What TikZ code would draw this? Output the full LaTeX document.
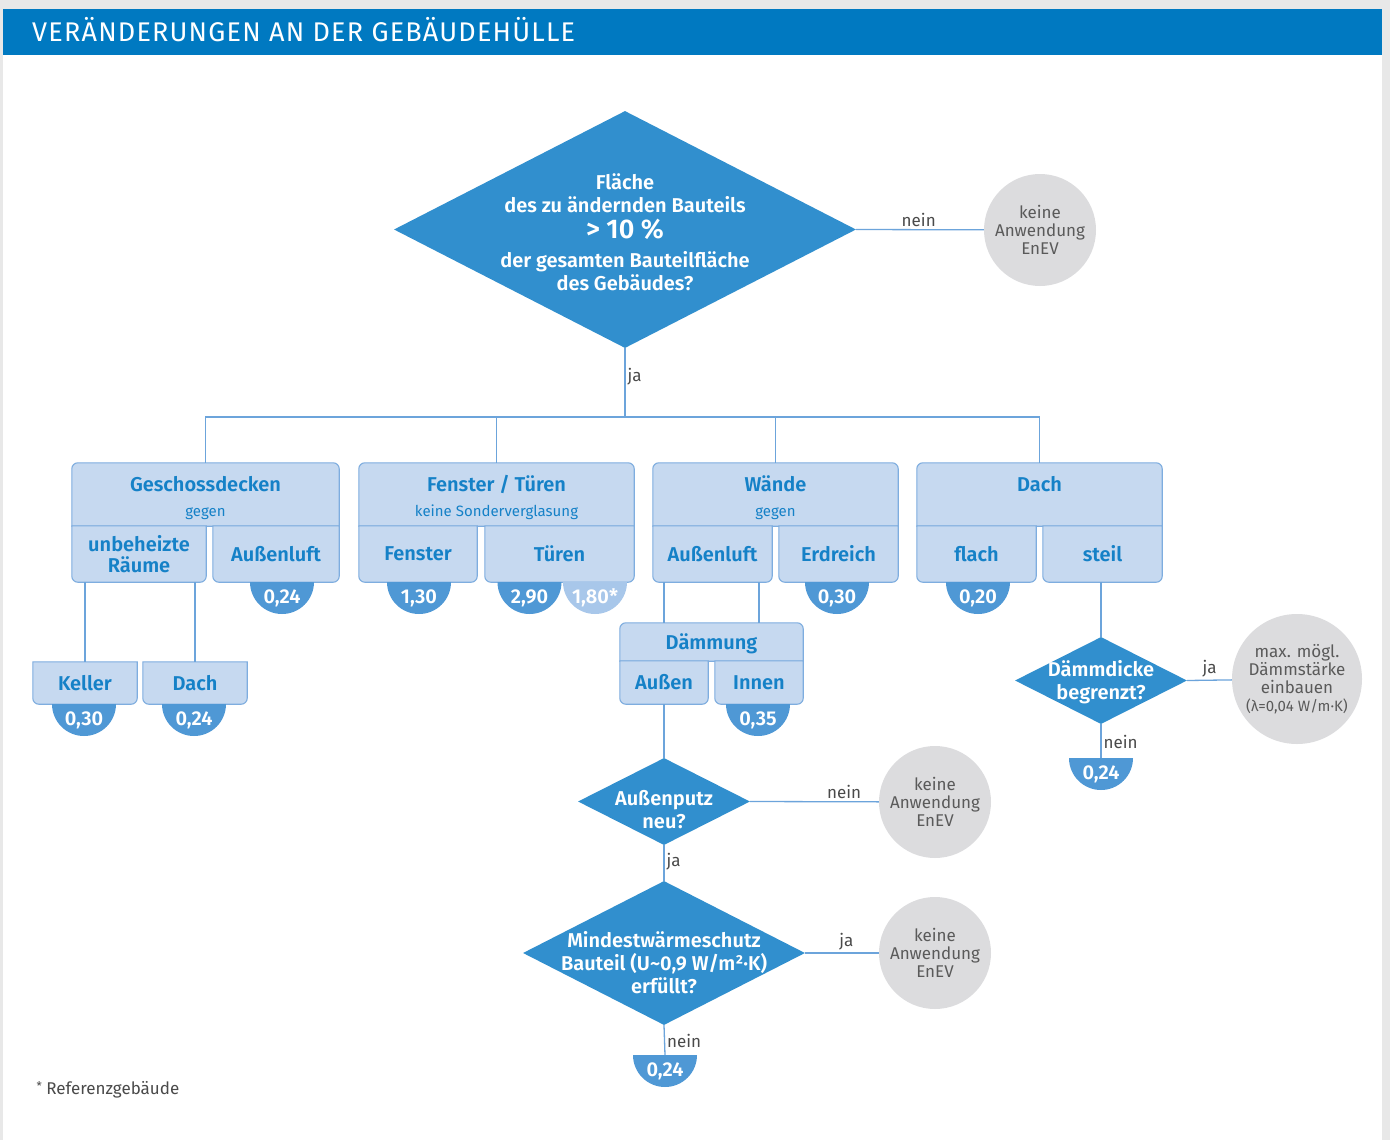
\documentclass[tikz,border=0pt]{standalone}
\usepackage{fontspec}
\setmainfont{Fira Sans}[BoldFont={Fira Sans SemiBold}]
\usepackage{tikz}
\usetikzlibrary{calc}
\usetikzlibrary{shapes.geometric}
\usetikzlibrary{backgrounds}

\definecolor{pagegray}{HTML}{E8E8E8}
\definecolor{headblue}{HTML}{0079C1}
\definecolor{diablue}{HTML}{318FCE}
\definecolor{badgeblue}{HTML}{4F98D5}
\definecolor{badgelight}{HTML}{A8C7EA}
\definecolor{cellfill}{HTML}{C6D9F0}
\definecolor{celledge}{HTML}{7EADDF}
\definecolor{celltext}{HTML}{1581C7}
\definecolor{linkblue}{HTML}{6CA4DB}
\definecolor{roundgray}{HTML}{DCDCDE}
\definecolor{roundtext}{HTML}{5A5A5A}
\definecolor{labeltext}{HTML}{4A4A4A}

\newcommand{\subfont}{\fontsize{15}{18}\selectfont\mdseries}
\newcommand{\topstrut}{\rule{0pt}{22pt}}
% box with rounded top corners
\newcommand{\headbox}[1]{\filldraw[cellbox] let \p1=(#1.north west), \p2=(#1.south east) in
  (\x1,\y2) -- (\x1,\y1-6pt) arc[start angle=180,end angle=90,radius=6pt] -- (\x2-6pt,\y1)
  arc[start angle=90,end angle=0,radius=6pt] -- (\x2,\y2) -- cycle;}
% box with rounded bottom corners
\newcommand{\lowbox}[1]{\filldraw[cellbox] let \p1=(#1.north west), \p2=(#1.south east) in
  (\x1,\y1) -- (\x1,\y2+6pt) arc[start angle=180,end angle=270,radius=6pt] -- (\x2-6pt,\y2)
  arc[start angle=270,end angle=360,radius=6pt] -- (\x2,\y1) -- cycle;}
% value under a box: name, x, top, text, colour
\newcommand{\badge}[5]{\fill[#5] (#2-32,#3) arc[start angle=180,end angle=360,radius=32] -- cycle;
  \coordinate (#1-top) at (#2,#3);
  \node[badgetext] (#1) at (#2,#3-16) {#4};}

\begin{document}
\begin{tikzpicture}[x=1pt, y=1pt,
  cellbox/.style={fill=cellfill, draw=celledge, line width=1.1pt},
  cell/.style={inner sep=0pt, text=celltext, align=center, font=\fontsize{20}{21}\selectfont\bfseries},
  headcell/.style={cell, minimum height=63pt},
  subcell/.style={cell, minimum height=56pt},
  lowcell/.style={cell, minimum height=42pt},
  query/.style={diamond, fill=diablue, inner sep=0pt},
  querytext/.style={text=white, align=center, font=\fontsize{20}{23}\selectfont\bfseries},
  endcircle/.style={circle, fill=roundgray, inner sep=0pt, text=roundtext, align=center, font=\fontsize{17}{18}\selectfont},
  link/.style={draw=linkblue, line width=1.3pt},
  answer/.style={text=labeltext, font=\fontsize{17}{18}\selectfont, inner sep=2pt},
  badgetext/.style={text=white, font=\fontsize{20}{20}\selectfont\bfseries, inner sep=0pt},
]
\path[use as bounding box] (0,0) rectangle (1390,-1140);

\node[anchor=base west, inner sep=0pt, text=white, font=\fontsize{27}{28}\selectfont\addfontfeatures{LetterSpace=4.5}] (title) at (32,-42) {VERÄNDERUNGEN AN DER GEBÄUDEHÜLLE};

% questions
\node[query, minimum width=462pt, minimum height=237pt] (q1) at (625,-229.5) {};
\node[querytext] (q1t) at (625,-232) {Fläche\\des zu ändernden Bauteils\\[3pt]{\fontsize{27}{28}\selectfont > 10 \%}\\[6pt]der gesamten Bauteilfläche\\des Gebäudes?};
\node[query, minimum width=172pt, minimum height=87pt] (q2) at (664,-801.5) {};
\node[querytext] (q2t) at (664,-810) {Außenputz\\neu?};
\node[query, minimum width=282pt, minimum height=144pt] (q3) at (664,-953) {};
\node[querytext] (q3t) at (664,-963) {Mindestwärmeschutz\\Bauteil (U\textasciitilde 0,9 W/m²·K)\\erfüllt?};
\node[query, minimum width=172pt, minimum height=87pt] (q4) at (1101,-680.5) {};
\node[querytext] (q4t) at (1101,-682.5) {Dämmdicke\\begrenzt?};

\node[endcircle, minimum size=112pt] (c1) at (1040,-230) {keine\\Anwendung\\EnEV};
\node[endcircle, minimum size=112pt] (c2) at (935,-802) {keine\\Anwendung\\EnEV};
\node[endcircle, minimum size=112pt] (c3) at (935,-953) {keine\\Anwendung\\EnEV};
\node[endcircle, minimum size=130pt] (c4) at (1297,-679) {max. mögl.\\Dämmstärke\\einbauen\\{\fontsize{15}{18}\selectfont(λ=0,04 W/m·K)}};

% building parts
\node[headcell, minimum width=267pt] (gd) at (205.5,-494.5) {\topstrut Geschossdecken\\[4pt]{\subfont gegen}};
\node[headcell, minimum width=275pt] (fs) at (496.5,-494.5) {\topstrut Fenster / Türen\\[4pt]{\subfont keine Sonderverglasung}};
\node[headcell, minimum width=245pt] (wd) at (775.5,-494.5) {\topstrut Wände\\[4pt]{\subfont gegen}};
\node[headcell, minimum width=245pt] (dh) at (1039.5,-494.5) {\topstrut Dach\\[4pt]{\subfont\phantom{gegen}}};

\node[subcell, minimum width=134pt] (gdUnb) at (139,-554) {unbeheizte\\Räume};
\node[subcell, minimum width=126pt] (gdAus) at (276,-554) {Außenluft};
\node[subcell, minimum width=118pt] (fsFen) at (418,-554) {Fenster};
\node[subcell, minimum width=149pt] (fsTuer) at (559.5,-554) {Türen};
\node[subcell, minimum width=119pt] (wdAus) at (712.5,-554) {Außenluft};
\node[subcell, minimum width=119pt] (wdErd) at (838.5,-554) {Erdreich};
\node[subcell, minimum width=119pt] (dhFlach) at (976.5,-554) {flach};
\node[subcell, minimum width=119pt] (dhSteil) at (1102.5,-554) {steil};

\node[lowcell, minimum width=104pt] (keller) at (85,-683) {Keller};
\node[lowcell, minimum width=104pt] (oben) at (195,-683) {Dach};
\node[cell, minimum width=183pt, minimum height=38pt] (dm) at (711.5,-642) {\rule{0pt}{19pt}Dämmung};
\node[cell, minimum width=88pt, minimum height=43pt] (dmAus) at (664,-682.5) {Außen};
\node[cell, minimum width=88pt, minimum height=43pt] (dmInn) at (759,-682.5) {Innen};

\begin{scope}[on background layer]
\fill[pagegray] (0,0) rectangle (1390,-1140);
\fill[white] (3,-9) rectangle (1382,-1140);
\fill[headblue] (3,-9) rectangle (1382,-55);
\headbox{gd} \headbox{fs} \headbox{wd} \headbox{dh} \headbox{dm}
\lowbox{gdUnb} \lowbox{gdAus} \lowbox{fsFen} \lowbox{fsTuer}
\lowbox{wdAus} \lowbox{wdErd} \lowbox{dhFlach} \lowbox{dhSteil}
\lowbox{keller} \lowbox{oben} \lowbox{dmAus} \lowbox{dmInn}
\end{scope}

% values
\badge{vGdAus}{282}{-582}{0,24}{badgeblue}
\badge{vFen}{419}{-582}{1,30}{badgeblue}
\badge{vTuerRef}{595}{-582}{1,80*}{badgelight}
\badge{vTuer}{529.5}{-582}{2,90}{badgeblue}
\badge{vErd}{837}{-582}{0,30}{badgeblue}
\badge{vFlach}{978}{-582}{0,20}{badgeblue}
\badge{vKeller}{84}{-704}{0,30}{badgeblue}
\badge{vOben}{194}{-704}{0,24}{badgeblue}
\badge{vInnen}{758}{-704}{0,35}{badgeblue}
\badge{vQ3}{665}{-1055}{0,24}{badgeblue}
\badge{vQ4}{1101}{-758}{0,24}{badgeblue}

% connectors
\coordinate (split) at (625,-417);
\draw[link] (q1.south) -- node[answer, right, pos=0.41]{ja} (split);
\draw[link] (gd.north) |- (split) -| (dh.north);
\draw[link] (fs.north) -- (fs.north |- split);
\draw[link] (wd.north) -- (wd.north |- split);
\draw[link] (q1.east) -- node[answer, above, pos=0.49]{nein} (c1);

\draw[link] (keller.north) -- (keller.north |- gdUnb.south);
\draw[link] (oben.north) -- (oben.north |- gdUnb.south);

\draw[link] (dmAus.north |- dm.north) -- (dmAus.north |- wdAus.south);
\draw[link] (dmInn.north |- dm.north) -- (dmInn.north |- wdAus.south);
\draw[link] (dmAus.south) -- (q2.north);
\draw[link] (q2.east) -- node[answer, above, pos=0.73]{nein} (c2);
\draw[link] (q2.south) -- node[answer, right, pos=0.47]{ja} (q3.north);
\draw[link] (q3.east) -- node[answer, above, pos=0.56]{ja} (c3);
\draw[link] (q3.south) -- node[answer, right, pos=0.53]{nein} (vQ3-top);

\draw[link] (q4.north |- dhSteil.south) -- (q4.north);
\draw[link] (q4.east) -- node[answer, above, pos=0.5]{ja} (c4);
\draw[link] (q4.south) -- node[answer, right, pos=0.53]{nein} (vQ4-top);

\node[anchor=west, text=labeltext, font=\fontsize{17}{18}\selectfont] (note) at (33,-1090) {\raisebox{4pt}{\fontsize{12}{12}\selectfont*} Referenzgebäude};
\end{tikzpicture}
\end{document}
